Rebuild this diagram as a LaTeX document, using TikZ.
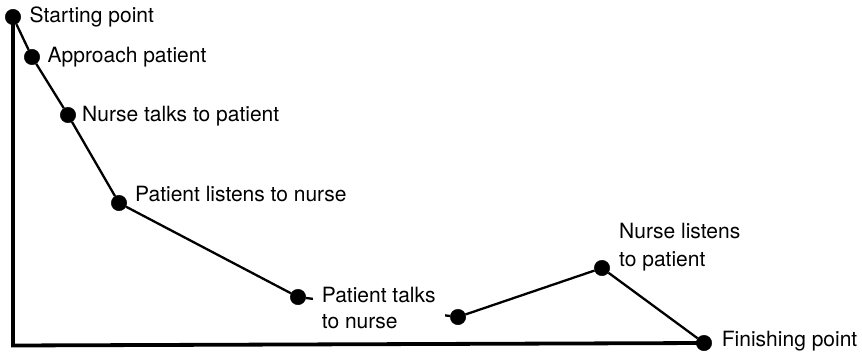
\documentclass[tikz,border=0pt]{standalone}
\usepackage{fontspec}
\setmainfont{TeX Gyre Heros}
\usepackage{tikz}
\usetikzlibrary{positioning}

\begin{document}
\begin{tikzpicture}[-, x=1pt, y=-1pt, main node/.style={circle, draw, fill, inner sep=0pt, minimum size=15.5pt}, lab/.style={anchor=base west, inner sep=0pt, align=left, font=\fontsize{21}{25.5}\selectfont}, link/.style={line width=2.3pt}, axis/.style={line width=3.8pt}]
\useasboundingbox (0,0) rectangle (862,353);
\node[main node] (start) at (13,17) {};
\node[main node] (approach) at (32,57) {};
\node[main node] (talk) at (68,115) {};
\node[main node] (listen) at (119,203) {};
\node[main node] (ptalk) at (298,297) {};
\node[main node] (gap) at (458,317) {};
\node[main node] (nlisten) at (602,268) {};
\node[main node] (finish) at (704,343) {};
\coordinate (corner) at (13,345.5);
\draw[axis] (start.center) -- (corner) -- (finish.center);
\path[link]
(start) edge (approach)
(approach) edge (talk)
(talk) edge (listen)
(listen) edge (ptalk)
(ptalk) edge (gap)
(gap) edge (nlisten)
(nlisten) edge (finish);
\node[lab] (lstart) at (29.5,22.7) {Starting point};
\node[lab] (lapproach) at (47.5,62.7) {Approach patient};
\node[lab] (ltalk) at (82,121.7) {Nurse talks to patient};
\node[lab] (llisten) at (135,201.7) {Patient listens to nurse};
\node[lab, fill=white, inner xsep=9pt] (lptalk) at (312.7,328) {Patient talks\\to nurse};
\node[lab] (lnlisten) at (619,266.5) {Nurse listens\\[2.5pt]to patient};
\node[lab] (lfinish) at (721.7,346.7) {Finishing point};
\end{tikzpicture}
\end{document}
